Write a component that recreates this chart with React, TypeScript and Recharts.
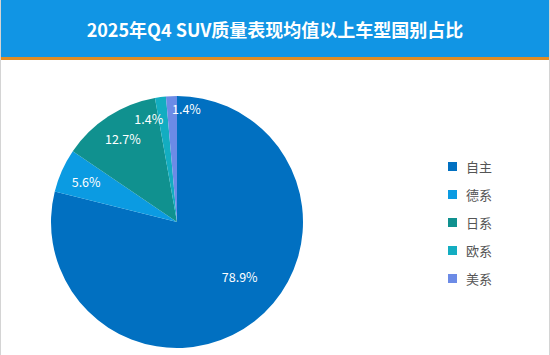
import { Cell, Legend, Pie, PieChart } from 'recharts';

const CATEGORIES = ['自主', '德系', '日系', '欧系', '美系'];
const SHARES = [78.9, 5.6, 12.7, 1.4, 1.4];
const COLORS = ['#0170c1', '#0b9be2', '#10918f', '#13adc1', '#6c8be6'];

const data = CATEGORIES.map((name, i) => ({ name, value: SHARES[i] }));

const FONT = '"Noto Sans CJK SC", "Noto Sans", sans-serif';
const RAD = Math.PI / 180;

function renderLabel(props: any) {
  const { cx, cy, midAngle, outerRadius, value, index } = props;
  const tiny = value < 2;
  const prevTiny = index > 0 && SHARES[index - 1] < 2;
  let k = 0.79;
  let angle = midAngle;
  if (value > 50) {
    // big slice: label sits a little toward the slice start, like the source
    k = 0.66;
    angle = midAngle + 11;
  }
  if (tiny) k = prevTiny ? 0.9 : 0.83;
  const r = outerRadius * k;
  const x = cx + r * Math.cos(-angle * RAD);
  const y = cy + r * Math.sin(-angle * RAD);
  const anchor = tiny ? (prevTiny ? 'start' : 'end') : 'middle';
  return (
    <text
      x={x}
      y={y}
      fill="#ffffff"
      fontSize={12.5}
      fontFamily={FONT}
      textAnchor={anchor}
      dominantBaseline="central"
    >
      {`${value.toFixed(1)}%`}
    </text>
  );
}

function LegendList() {
  return (
    <div style={{ fontFamily: FONT }}>
      {CATEGORIES.map((c, i) => (
        <div key={c} style={{ display: 'flex', alignItems: 'center', height: 28 }}>
          <span style={{ width: 9, height: 9, background: COLORS[i], marginRight: 9 }} />
          <span style={{ fontSize: 13, color: '#555555' }}>{c}</span>
        </div>
      ))}
    </div>
  );
}

export default function App() {
  return (
    <div
      style={{
        position: 'fixed',
        left: 0,
        top: 0,
        width: 550,
        height: 355,
        background: '#ffffff',
        boxSizing: 'border-box',
        borderLeft: '1px solid #d4d4d4',
        borderRight: '1px solid #d4d4d4',
        overflow: 'hidden',
      }}
    >
      <div
        style={{
          position: 'absolute',
          left: 0,
          top: 0,
          width: '100%',
          height: 57,
          background: '#1195e4',
          borderBottom: '3px solid #e08c22',
          color: '#ffffff',
          fontFamily: FONT,
          fontWeight: 700,
          fontSize: 18,
          display: 'flex',
          alignItems: 'center',
          justifyContent: 'center',
        }}
      >
        2025年Q4 SUV质量表现均值以上车型国别占比
      </div>
      <div style={{ position: 'absolute', left: -1, top: 0 }}>
        <PieChart width={550} height={355} margin={{ top: 0, right: 0, bottom: 0, left: 0 }}>
          <Pie
            data={data}
            dataKey="value"
            nameKey="name"
            cx={177}
            cy={222}
            outerRadius={126}
            startAngle={90}
            endAngle={-270}
            stroke="none"
            label={renderLabel}
            labelLine={false}
            isAnimationActive={false}
          >
            {data.map((d, i) => (
              <Cell key={d.name} fill={COLORS[i]} />
            ))}
          </Pie>
          <Legend
            content={() => <LegendList />}
            wrapperStyle={{ position: 'absolute', left: 448, top: 152, width: 90 }}
          />
        </PieChart>
      </div>
    </div>
  );
}
